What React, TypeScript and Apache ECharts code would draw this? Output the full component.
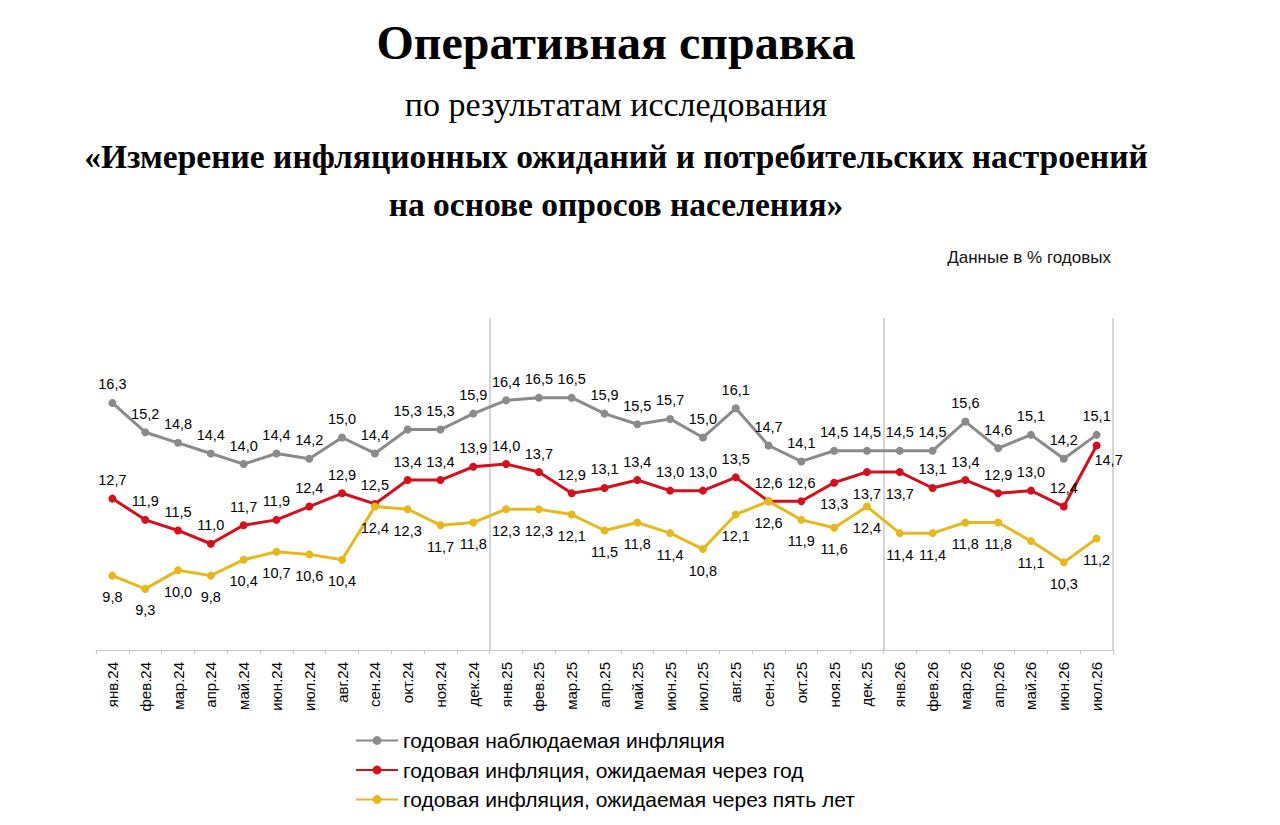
import React, { useEffect, useRef } from "react";
import * as echarts from "echarts";

const months: string[] = [
  "янв.24", "фев.24", "мар.24", "апр.24", "май.24", "июн.24", "июл.24", "авг.24", "сен.24", "окт.24", "ноя.24", "дек.24",
  "янв.25", "фев.25", "мар.25", "апр.25", "май.25", "июн.25", "июл.25", "авг.25", "сен.25", "окт.25", "ноя.25", "дек.25",
  "янв.26", "фев.26", "мар.26", "апр.26", "май.26", "июн.26", "июл.26",
];

const observed: number[] = [
  16.3, 15.2, 14.8, 14.4, 14.0, 14.4, 14.2, 15.0, 14.4, 15.3, 15.3, 15.9,
  16.4, 16.5, 16.5, 15.9, 15.5, 15.7, 15.0, 16.1, 14.7, 14.1, 14.5, 14.5,
  14.5, 14.5, 15.6, 14.6, 15.1, 14.2, 15.1,
];

const expectedYear: number[] = [
  12.7, 11.9, 11.5, 11.0, 11.7, 11.9, 12.4, 12.9, 12.5, 13.4, 13.4, 13.9,
  14.0, 13.7, 12.9, 13.1, 13.4, 13.0, 13.0, 13.5, 12.6, 12.6, 13.3, 13.7,
  13.7, 13.1, 13.4, 12.9, 13.0, 12.4, 14.7,
];

const expectedFive: number[] = [
  9.8, 9.3, 10.0, 9.8, 10.4, 10.7, 10.6, 10.4, 12.4, 12.3, 11.7, 11.8,
  12.3, 12.3, 12.1, 11.5, 11.8, 11.4, 10.8, 12.1, 12.6, 11.9, 11.6, 12.4,
  11.4, 11.4, 11.8, 11.8, 11.1, 10.3, 11.2,
];

const seriesNames: string[] = [
  "годовая наблюдаемая инфляция",
  "годовая инфляция, ожидаемая через год",
  "годовая инфляция, ожидаемая через пять лет",
];

// red series points whose labels sit below the marker
const redBelow: number[] = [22, 23, 24];
const redLast = 30;

const fmt = (v: number) => v.toFixed(1).replace(".", ",");

export default function App() {
  const ref = useRef<HTMLDivElement>(null);

  useEffect(() => {
    document.body.style.margin = "0";
    if (!ref.current) return;
    const chart = echarts.init(ref.current, null, { renderer: "svg" });

    const labelFont = {
      fontSize: 14.5,
      color: "#000",
      fontFamily: "Liberation Sans, Arial, sans-serif",
    };

    const redData = expectedYear.map((v, i) => {
      if (redBelow.includes(i)) {
        return { value: v, label: { position: "bottom", distance: 10 } };
      }
      if (i === redLast) {
        return { value: v, label: { position: "bottom", distance: 4, offset: [12, -1] } };
      }
      return v;
    });

    const textEl = (x: number, y: number, text: string, font: string, align = "center", fill = "#000") => ({
      type: "text",
      x,
      y,
      style: {
        text,
        fill,
        font,
        align,
        verticalAlign: "middle",
        textAlign: align,
        textVerticalAlign: "middle",
      },
    });

    const option: any = {
      animation: false,
      backgroundColor: "#ffffff",
      graphic: [
        textEl(616, 42, "Оперативная справка", "bold 48px 'Liberation Serif', 'Times New Roman', serif"),
        textEl(616, 104, "по результатам исследования", "34px 'Liberation Serif', 'Times New Roman', serif"),
        textEl(616, 156, "«Измерение инфляционных ожиданий и потребительских настроений", "bold 33.5px 'Liberation Serif', 'Times New Roman', serif"),
        textEl(616, 204, "на основе опросов населения»", "bold 33.5px 'Liberation Serif', 'Times New Roman', serif"),
        textEl(1111, 257, "Данные в % годовых", "17px 'Liberation Sans', Arial, sans-serif", "right", "#111"),
      ],
      grid: { left: 96, right: 167, top: 318, bottom: 175 },
      legend: {
        orient: "vertical",
        left: 355,
        top: 730,
        padding: 0,
        itemWidth: 42,
        itemHeight: 11,
        itemGap: 8.5,
        textStyle: {
          fontSize: 21,
          lineHeight: 20,
          color: "#000",
          fontFamily: "Liberation Sans, Arial, sans-serif",
        },
        data: seriesNames,
      },
      xAxis: {
        type: "category",
        data: months,
        boundaryGap: true,
        axisLine: { show: true, lineStyle: { color: "#c4c4c4", width: 1 } },
        axisTick: { show: true, interval: 0, length: 4, lineStyle: { color: "#c4c4c4" } },
        axisLabel: {
          interval: 0,
          rotate: 90,
          margin: 12,
          fontSize: 15,
          color: "#000",
          fontFamily: "Liberation Sans, Arial, sans-serif",
        },
        splitLine: {
          show: true,
          interval: (idx: number) => idx === 12 || idx === 24,
          lineStyle: { color: "#c8c8c8", width: 1.5 },
        },
      },
      yAxis: {
        type: "value",
        min: 7,
        max: 19.5,
        show: false,
        splitLine: { show: false },
      },
      series: [
        {
          name: seriesNames[0],
          type: "line",
          data: observed,
          symbol: "circle",
          symbolSize: 8,
          color: "#8a8a8a",
          lineStyle: { width: 3, color: "#8a8a8a" },
          label: { show: true, position: "top", distance: 7, formatter: (p: any) => fmt(p.value), ...labelFont },
          z: 3,
        },
        {
          name: seriesNames[1],
          type: "line",
          data: redData,
          symbol: "circle",
          symbolSize: 8,
          color: "#d2101e",
          lineStyle: { width: 3, color: "#d2101e" },
          label: { show: true, position: "top", distance: 7, formatter: (p: any) => fmt(p.value), ...labelFont },
          z: 4,
        },
        {
          name: seriesNames[2],
          type: "line",
          data: expectedFive,
          symbol: "circle",
          symbolSize: 8,
          color: "#e6b81e",
          lineStyle: { width: 3, color: "#e6b81e" },
          label: { show: true, position: "bottom", distance: 10, formatter: (p: any) => fmt(p.value), ...labelFont },
          z: 5,
        },
      ],
    };

    chart.setOption(option);
    return () => chart.dispose();
  }, []);

  return <div ref={ref} style={{ width: 1280, height: 825 }} />;
}
